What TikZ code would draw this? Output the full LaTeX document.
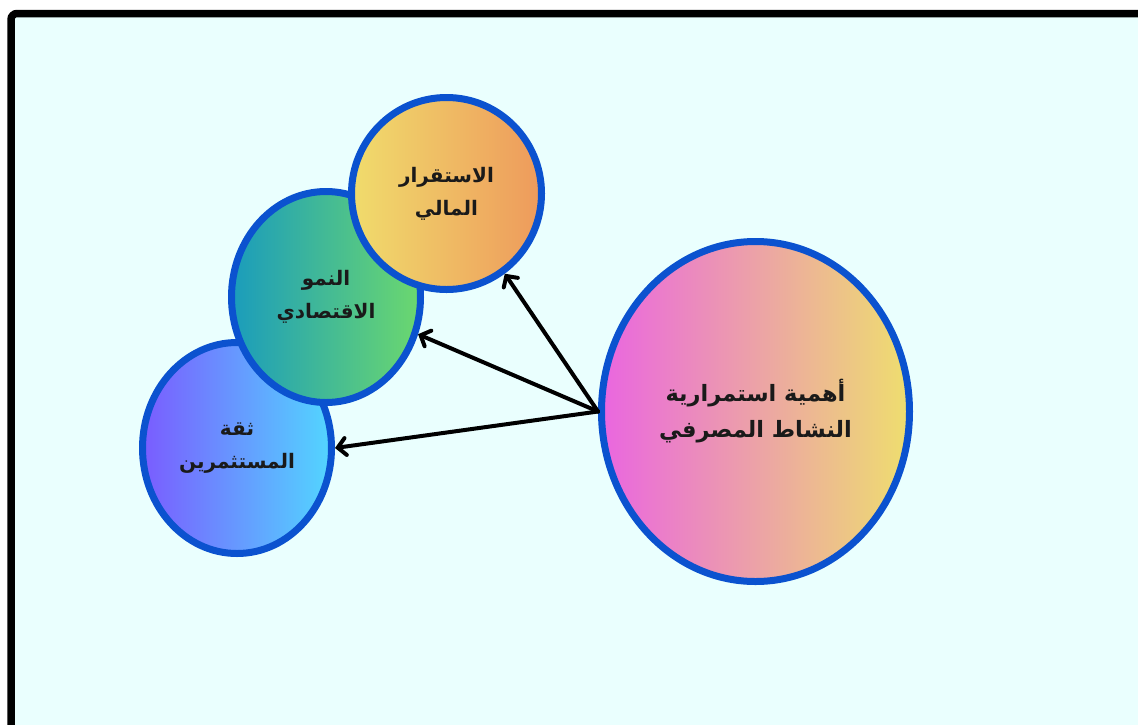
\documentclass[tikz,border=0pt]{standalone}
\usepackage{fontspec}
\usetikzlibrary{shapes.geometric,arrows.meta}
\TeXXeTstate=1
\newfontfamily\arabicfont[Script=Arabic]{DejaVu Sans}
\definecolor{bgc}{HTML}{EAFFFE}
\definecolor{ringc}{HTML}{0B52CF}
\definecolor{txtc}{HTML}{1A1A1A}
\definecolor{stabL}{HTML}{F0DC6C}
\definecolor{stabR}{HTML}{EE9A5C}
\definecolor{growL}{HTML}{1A9CBC}
\definecolor{growR}{HTML}{6CD86E}
\definecolor{invL}{HTML}{7A5CFF}
\definecolor{invR}{HTML}{52D6FF}
\definecolor{mainL}{HTML}{EA66E0}
\definecolor{mainR}{HTML}{EEDE6E}
\tikzset{
  bubble/.style={ellipse, draw=ringc, line width=7pt, inner sep=0pt,
    align=center, text=txtc, font=\arabicfont\bfseries\fontsize{20}{33}\selectfont},
  bigbubble/.style={bubble, font=\arabicfont\bfseries\fontsize{22.5}{36}\selectfont},
  link/.style={draw=black, line width=4pt, line cap=round,
    -{Straight Barb[length=8pt,width=17pt,line width=4pt,line cap=round]}}
}
\begin{document}
\begin{tikzpicture}[x=1pt,y=-1pt]
\useasboundingbox (0,0) rectangle (1138,724);
\clip (0,0) rectangle (1138,724);
\fill[white] (0,0) rectangle (1138,724);
\draw[line width=7.5pt, fill=bgc, rounded corners=6pt] (11,13.5) rectangle (1170,760);
\node[bubble, left color=invL, right color=invR, minimum width=189pt, minimum height=211pt]
  (inv) at (237,448) {\beginR ثقة\endR\\\beginR المستثمرين\endR};
\node[bubble, left color=growL, right color=growR, minimum width=189pt, minimum height=211pt]
  (grow) at (326,297) {\beginR النمو\endR\\\beginR الاقتصادي\endR};
\node[bubble, left color=stabL, right color=stabR, minimum width=190pt, minimum height=192pt]
  (stab) at (446.5,193.5) {\beginR الاستقرار\endR\\\beginR المالي\endR};
\node[bigbubble, left color=mainL, right color=mainR, minimum width=308pt, minimum height=340pt]
  (main) at (755.5,411.5) {\beginR أهمية استمرارية\endR\\\beginR النشاط المصرفي\endR};
\draw[link] (main.west) -- (stab.-54);
\draw[link] (main.west) -- (grow.-22);
\draw[link] (main.west) -- (inv.east);
\end{tikzpicture}
\end{document}
